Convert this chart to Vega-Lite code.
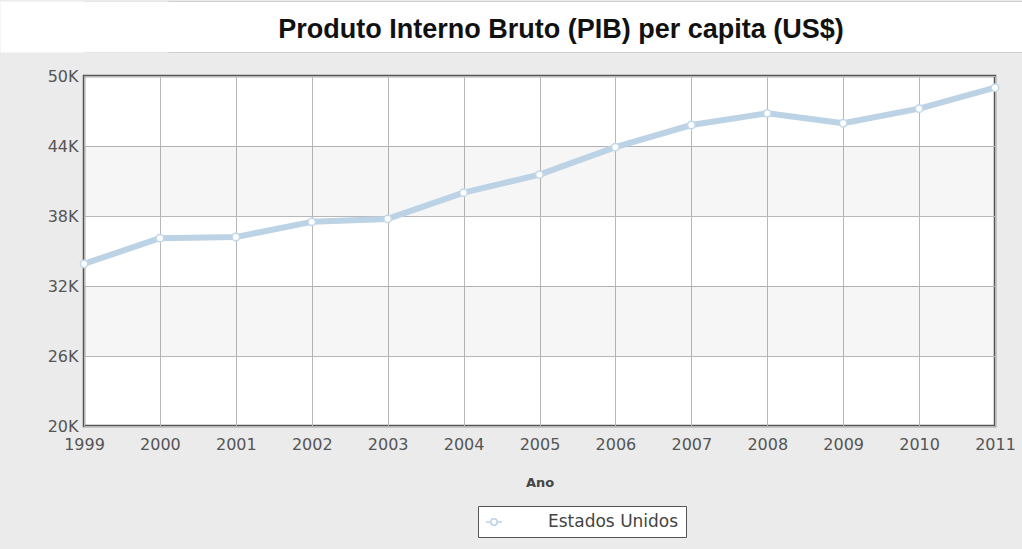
{
  "$schema": "https://vega.github.io/schema/vega-lite/v6.json",
  "background": "#ebebeb",
  "padding": {"left": 0, "top": 0, "right": 0, "bottom": 11},
  "autosize": {"type": "pad"},
  "columns": 1,
  "align": "none",
  "spacing": 13,
  "datasets": {
    "pib": [
      {"ano": 1999, "pib": 33900, "pais": "Estados Unidos"},
      {"ano": 2000, "pib": 36100, "pais": "Estados Unidos"},
      {"ano": 2001, "pib": 36200, "pais": "Estados Unidos"},
      {"ano": 2002, "pib": 37500, "pais": "Estados Unidos"},
      {"ano": 2003, "pib": 37750, "pais": "Estados Unidos"},
      {"ano": 2004, "pib": 40000, "pais": "Estados Unidos"},
      {"ano": 2005, "pib": 41550, "pais": "Estados Unidos"},
      {"ano": 2006, "pib": 43900, "pais": "Estados Unidos"},
      {"ano": 2007, "pib": 45800, "pais": "Estados Unidos"},
      {"ano": 2008, "pib": 46800, "pais": "Estados Unidos"},
      {"ano": 2009, "pib": 45950, "pais": "Estados Unidos"},
      {"ano": 2010, "pib": 47200, "pais": "Estados Unidos"},
      {"ano": 2011, "pib": 49000, "pais": "Estados Unidos"}
    ],
    "bands": [
      {"lo": 38000, "hi": 44000},
      {"lo": 26000, "hi": 32000}
    ],
    "titulo": [
      {"t": "Produto Interno Bruto (PIB) per capita (US$)", "pos": 0.5}
    ]
  },
  "concat": [
    {
      "width": 938,
      "height": 51,
      "view": {"fill": "#ffffff", "stroke": "#cfcfcf", "strokeWidth": 1},
      "data": {"name": "titulo"},
      "mark": {"type": "text", "font": "Liberation Sans", "fontWeight": "bold", "fontSize": 27, "color": "#111111", "baseline": "middle", "dx": 8, "dy": 3},
      "encoding": {
        "text": {"field": "t", "type": "nominal"},
        "y": {
          "field": "pos", "type": "quantitative",
          "scale": {"domain": [0, 1], "nice": false, "zero": false},
          "axis": {"labels": false, "ticks": false, "grid": false, "title": null, "domain": true, "domainColor": "#ffffff", "domainWidth": 168, "minExtent": 0}
        }
      }
    },
    {
      "width": 911,
      "height": 350,
      "view": {"fill": "#ffffff", "stroke": "#555555", "strokeWidth": 2.5},
      "layer": [
        {
          "data": {"name": "bands"},
          "mark": {"type": "rect", "color": "#000000", "opacity": 0.035},
          "encoding": {
            "y": {"field": "lo", "type": "quantitative", "scale": {"domain": [20000, 50000], "nice": false, "zero": false}},
            "y2": {"field": "hi"}
          }
        },
        {
          "data": {"name": "pib"},
          "mark": {"type": "line", "strokeWidth": 6, "strokeCap": "round", "strokeJoin": "round"},
          "encoding": {
            "x": {
              "field": "ano", "type": "quantitative",
              "scale": {"domain": [1999, 2011], "nice": false, "zero": false},
              "axis": {
                "values": [1999, 2000, 2001, 2002, 2003, 2004, 2005, 2006, 2007, 2008, 2009, 2010, 2011],
                "format": "d",
                "grid": true, "gridColor": "#b8b8b8", "gridWidth": 1,
                "domain": false, "ticks": false,
                "labelPadding": 10, "labelFont": "DejaVu Sans", "labelFontSize": 16, "labelColor": "#555555",
                "labelFlush": false, "labelOverlap": false,
                "title": "Ano", "titleFont": "DejaVu Sans", "titleFontSize": 13, "titleFontWeight": "bold", "titleColor": "#444444", "titlePadding": 24
              }
            },
            "y": {
              "field": "pib", "type": "quantitative",
              "scale": {"domain": [20000, 50000], "nice": false, "zero": false},
              "axis": {
                "values": [20000, 26000, 32000, 38000, 44000, 50000],
                "labelExpr": "(datum.value / 1000) + 'K'",
                "grid": true, "gridColor": "#b8b8b8", "gridWidth": 1,
                "domain": false, "ticks": false,
                "labelPadding": 6, "labelFont": "DejaVu Sans", "labelFontSize": 16, "labelColor": "#555555",
                "labelFlush": false, "labelOverlap": false,
                "title": null, "minExtent": 82
              }
            },
            "color": {
              "field": "pais", "type": "nominal",
              "scale": {"range": ["#bcd2e5"]},
              "legend": {
                "title": null, "orient": "none", "legendX": 394, "legendY": 505,
                "fillColor": "#ffffff", "strokeColor": "#555555", "padding": 7,
                "labelFont": "DejaVu Sans", "labelFontSize": 17, "labelColor": "#444444", "labelOffset": 45,
                "symbolType": "M-1,0H-0.4M0.4,0H1M-0.4,0A0.4,0.4 0 1,0 0.4,0A0.4,0.4 0 1,0 -0.4,0Z",
                "symbolSize": 260, "symbolStrokeWidth": 1.5, "symbolFillColor": "#ffffff", "symbolStrokeColor": "#b8cfe3"
              }
            }
          }
        },
        {
          "data": {"name": "pib"},
          "mark": {"type": "point", "shape": "circle", "filled": true, "fill": "#ffffff", "stroke": "#c3d7ea", "strokeWidth": 1.5, "size": 55, "opacity": 1},
          "encoding": {
            "x": {"field": "ano", "type": "quantitative"},
            "y": {"field": "pib", "type": "quantitative"}
          }
        }
      ]
    }
  ]
}
